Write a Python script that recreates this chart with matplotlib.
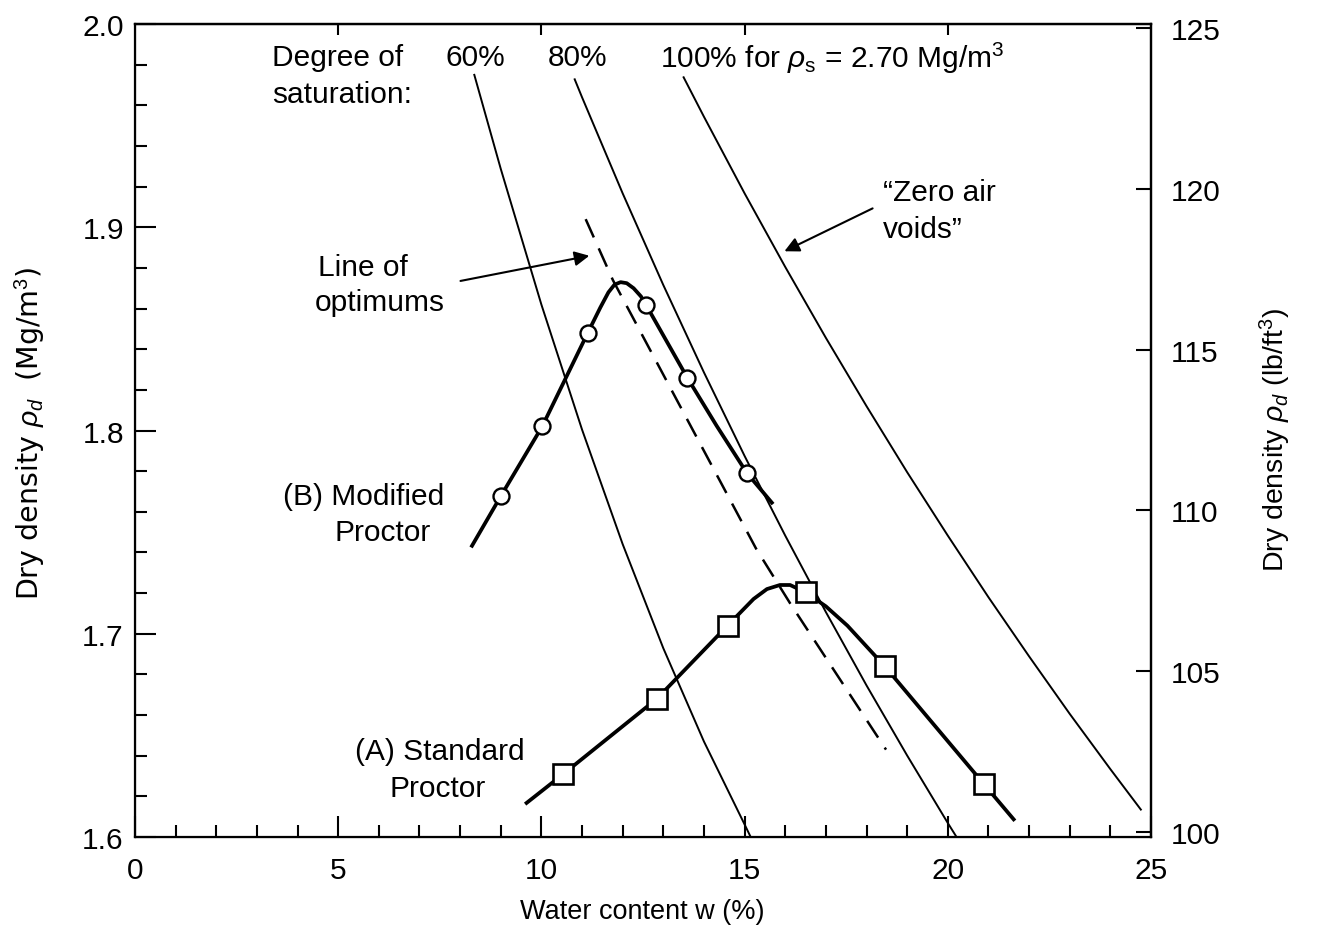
import matplotlib
matplotlib.use("Agg")
import matplotlib.pyplot as plt
from matplotlib.ticker import MultipleLocator, FixedLocator

plt.rcParams['font.family'] = ['Liberation Sans', 'DejaVu Sans']
plt.rcParams['mathtext.fontset'] = 'custom'
plt.rcParams['mathtext.rm'] = 'Liberation Sans'
plt.rcParams['mathtext.it'] = 'Liberation Sans:italic'

# saturation lines, w in %, rho_d in Mg/m3
w_s60 = [8.35, 9, 10, 11, 12, 13, 14, 15, 15.15]
rho_s60 = [1.975, 1.9288, 1.8620, 1.8005, 1.7441, 1.6929, 1.6470, 1.6062, 1.600]
w_s80 = [10.82, 11, 12, 13, 14, 15, 16, 17, 18, 19, 20, 20.2]
rho_s80 = [1.9728, 1.9640, 1.9167, 1.8716, 1.8286, 1.7875, 1.7483, 1.7107, 1.6746, 1.6401, 1.6069, 1.6005]
w_s100 = [13.5, 14, 15, 16, 17, 18, 19, 20, 21, 22, 23, 24, 24.75]
rho_s100 = [1.9738, 1.9544, 1.9167, 1.8805, 1.8456, 1.8120, 1.7795, 1.7483, 1.7180, 1.6889, 1.6606, 1.6334, 1.6135]

# (B) modified proctor: test points and traced curve
w_mod = [9.01, 10.02, 11.14, 12.57, 13.59, 15.06]
rho_mod = [1.768, 1.802, 1.848, 1.862, 1.826, 1.779]
w_mod_curve = [8.27, 9.01, 10.02, 11.14, 11.45, 11.65, 11.80, 11.95, 12.10, 12.27, 12.45, 12.57,
               13.59, 14.31, 15.06, 15.70]
rho_mod_curve = [1.7425, 1.768, 1.802, 1.848, 1.8605, 1.8680, 1.8718, 1.8730, 1.8725, 1.8700, 1.8660,
                 1.862, 1.826, 1.8024, 1.779, 1.7638]

# (A) standard proctor
w_std = [10.54, 12.84, 14.58, 16.50, 18.45, 20.89]
rho_std = [1.631, 1.668, 1.704, 1.7204, 1.684, 1.626]
w_std_curve = [9.60, 10.54, 12.84, 14.58, 15.22, 15.55, 15.87, 16.12, 16.50, 17.0, 17.53, 18.45, 20.89, 21.65]
rho_std_curve = [1.6162, 1.631, 1.668, 1.704, 1.7171, 1.722, 1.724, 1.724, 1.7204, 1.7135, 1.704, 1.684,
                 1.626, 1.608]

# line of optimums
w_opt = [11.09, 11.76, 15.28, 16.12, 18.48]
rho_opt = [1.904, 1.874, 1.742, 1.715, 1.643]

fig = plt.figure(figsize=(13.23, 9.45), dpi=100)
ax = fig.add_axes([0.102, 0.1132, 0.768, 0.8603])

ax.plot(w_s60, rho_s60, '-', color='black', lw=1.4)
ax.plot(w_s80, rho_s80, '-', color='black', lw=1.4)
ax.plot(w_s100, rho_s100, '-', color='black', lw=1.4)
ax.plot(w_opt, rho_opt, color='black', lw=1.8, linestyle=(0, (8, 4.8)))

ax.plot(w_mod_curve, rho_mod_curve, '-', color='black', lw=2.7, solid_capstyle='butt', solid_joinstyle='round')
ax.plot(w_std_curve, rho_std_curve, '-', color='black', lw=2.7, solid_capstyle='butt', solid_joinstyle='round')
ax.plot(w_mod, rho_mod, 'o', ms=11.5, mfc='white', mec='black', mew=1.7, zorder=5)
ax.plot(w_std, rho_std, 's', ms=15, mfc='white', mec='black', mew=1.9, zorder=5)

ax.set_xlim(0, 25)
ax.set_ylim(1.6, 2.0)
ax.xaxis.set_major_locator(MultipleLocator(5))
ax.xaxis.set_minor_locator(MultipleLocator(1))
ax.yaxis.set_major_locator(MultipleLocator(0.1))
ax.yaxis.set_minor_locator(MultipleLocator(0.02))
ax.yaxis.set_major_formatter(matplotlib.ticker.FormatStrFormatter('%.1f'))
ax.tick_params(which='both', direction='in', width=1.5, labelsize=21.5)
ax.tick_params(which='major', length=15)
ax.tick_params(which='minor', length=8.5)
ax.tick_params(axis='x', pad=14)
ax.tick_params(axis='y', pad=8)
for sp in ax.spines.values():
    sp.set_linewidth(1.6)

top = ax.secondary_xaxis('top')
top.xaxis.set_major_locator(FixedLocator([5, 10, 15, 20]))
top.tick_params(direction='in', length=8, width=1.5, labeltop=False)
top.spines['top'].set_linewidth(1.6)

ax2 = ax.twinx()
ax2.set_ylim(99.84, 125.13)
ax2.yaxis.set_major_locator(MultipleLocator(5))
ax2.tick_params(direction='in', length=11, width=1.5, labelsize=21.5, pad=14)
ax2.spines['right'].set_linewidth(1.6)

# text labels
fs = 21.5
ax.text(3.37, 1.9838, 'Degree of', fontsize=fs, va='center')
ax.text(3.37, 1.9656, 'saturation:', fontsize=fs, va='center')
ax.text(7.63, 1.9838, '60%', fontsize=fs, va='center')
ax.text(10.16, 1.9838, '80%', fontsize=fs, va='center')
ax.text(12.92, 1.9838, r'100% for $\rho_{\rm s}$ = 2.70 Mg/m$^3$', fontsize=fs, va='center')
ax.text(4.50, 1.8804, 'Line of', fontsize=fs, va='center')
ax.text(4.43, 1.8632, 'optimums', fontsize=fs, va='center')
ax.text(18.41, 1.9173, '\u201cZero air', fontsize=fs, va='center')
ax.text(18.41, 1.8991, 'voids\u201d', fontsize=fs, va='center')
ax.text(3.64, 1.7678, '(B) Modified', fontsize=fs, va='center')
ax.text(4.92, 1.7501, 'Proctor', fontsize=fs, va='center')
ax.text(5.41, 1.6423, '(A) Standard', fontsize=fs, va='center')
ax.text(6.27, 1.6241, 'Proctor', fontsize=fs, va='center')

arrow = dict(arrowstyle='-|>', lw=1.5, color='black', mutation_scale=22, shrinkA=0, shrinkB=0)
ax.annotate('', xy=(11.18, 1.886), xytext=(8.01, 1.8736), arrowprops=arrow)
ax.annotate('', xy=(15.98, 1.8882), xytext=(18.15, 1.9093), arrowprops=arrow)

fig.text(642 / 1323, 1 - 912 / 945, 'Water content w (%)', fontsize=19.5, ha='center', va='center')
fig.text(30 / 1323, 1 - 433 / 945, r'Dry density $\rho_d$  (Mg/m$^3$)', fontsize=20.5,
         rotation=90, ha='center', va='center', family=['DejaVu Sans'])
fig.text(1275 / 1323, 1 - 440 / 945, r'Dry density $\rho_d$ (lb/ft$^3$)', fontsize=20.5,
         rotation=90, ha='center', va='center')

fig.savefig('out.png', dpi=100)
